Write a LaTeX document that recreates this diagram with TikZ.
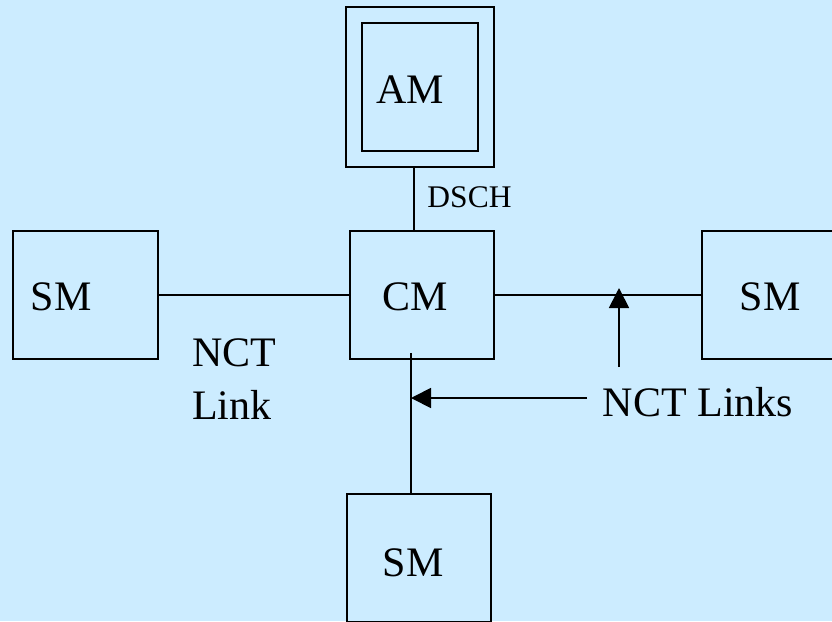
\documentclass[tikz,border=0pt]{standalone}
\usepackage{fontspec}
\setmainfont{Liberation Serif}
\usetikzlibrary{arrows.meta}
\definecolor{bgblue}{RGB}{204,236,255}
\begin{document}
\begin{tikzpicture}[x=1pt,y=-1pt,
  box/.style={draw=black,line width=1.8pt,fill=none,inner sep=0pt},
  big/.style={font=\fontsize{42}{48}\selectfont,inner sep=0pt},
  small/.style={font=\fontsize{31.5}{36}\selectfont,inner sep=0pt},
  link/.style={draw=black,line width=1.8pt},
  ptr/.style={draw=black,line width=1.8pt,-{Triangle[length=20pt,width=20pt]}}]
\fill[bgblue] (0,0) rectangle (832,621);
\useasboundingbox (0,0) rectangle (832,621);
\clip (0,0) rectangle (832,621);
% boxes
\node[box,minimum width=148pt,minimum height=160pt] (amo) at (420,87) {};
\node[box,minimum width=116pt,minimum height=128pt] (ami) at (420,87) {};
\node[box,minimum width=144pt,minimum height=128pt] (cm) at (422,295) {};
\node[box,minimum width=145pt,minimum height=128pt] (sml) at (85.5,295) {};
\node[box,minimum width=144pt,minimum height=128pt] (smr) at (774,295) {};
\node[box,minimum width=144pt,minimum height=128pt] (smb) at (419,558) {};
% labels
\node[big] (amt) at (410,90) {AM};
\node[big] (cmt) at (415,297) {CM};
\node[big] (smlt) at (61,297) {SM};
\node[big] (smrt) at (770,297) {SM};
\node[big] (smbt) at (413,563) {SM};
\node[small] (dsch) at (469.5,197) {DSCH};
\node[big,anchor=west] (nct1) at (192,353) {NCT};
\node[big,anchor=west] (nct2) at (192,405) {Link};
\node[big] (nctl) at (698,402) {NCT Links};
% connectors
\coordinate (atop) at ([xshift=-6pt]amo.south);
\draw[link] (atop) -- (atop |- cm.north);
\draw[link] (sml.east) -- (cm.west);
\draw[link] (cm.east) -- (smr.west);
\coordinate (vtop) at ([xshift=-11pt,yshift=7pt]cm.south);
\draw[link] (vtop) -- (vtop |- smb.north);
% pointers
\coordinate (up0) at (619,367);
\coordinate (up1) at (619,288);
\draw[ptr] (up0) -- (up1);
\coordinate (lf0) at (587,398);
\coordinate (lf1) at (411,398);
\draw[ptr] (lf0) -- (lf1);
\end{tikzpicture}
\end{document}
